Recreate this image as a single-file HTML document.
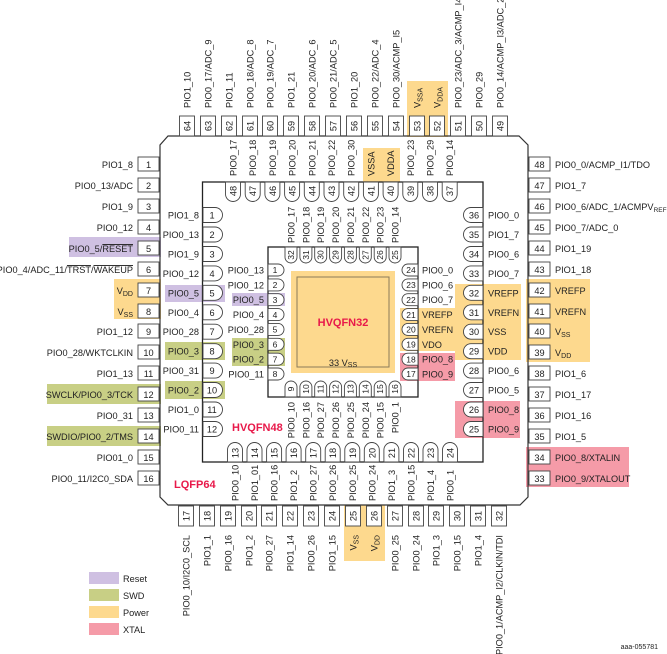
<!DOCTYPE html>
<html><head><meta charset="utf-8"><style>
html,body{margin:0;padding:0;background:#fff;}
svg{display:block;font-family:"Liberation Sans",sans-serif;}
text{fill:#222;font-size:9.2px;}
.n{text-anchor:middle;}
.e{text-anchor:end;}
.b rect{fill:#fff;stroke:#444;stroke-width:0.9;}
.t{fill:#fff;stroke:#444;stroke-width:0.9;}
.s text,.s{font-size:8.5px;}
</style></head><body>
<svg width="667" height="654" viewBox="0 0 667 654" xmlns="http://www.w3.org/2000/svg">
<defs>
<path id="t48" d="M0,-7.5 H12 A7.5,7.5 0 0 1 12,7.5 H0 Z" class="t"/>
<path id="t32" d="M0,-6 H10 A6,6 0 0 1 10,6 H0 Z" class="t"/>
</defs>

<g>
<rect x="69" y="237" width="92" height="20" fill="#cfc0e2"/>
<rect x="165" y="285" width="60" height="17" fill="#cfc0e2"/>
<rect x="232" y="293" width="53" height="13" fill="#cfc0e2"/>
<rect x="47" y="384" width="114" height="20" fill="#c8cf85"/>
<rect x="47" y="426" width="114" height="20" fill="#c8cf85"/>
<rect x="165" y="342" width="60" height="18" fill="#c8cf85"/>
<rect x="165" y="381" width="60" height="18" fill="#c8cf85"/>
<rect x="232" y="338" width="53" height="28" fill="#c8cf85"/>
<rect x="114" y="279" width="47" height="40" fill="#fdd98e"/>
<rect x="407" y="81" width="41" height="56" fill="#fdd98e"/>
<rect x="363" y="148" width="37" height="34" fill="#fdd98e"/>
<rect x="344" y="505" width="41" height="56" fill="#fdd98e"/>
<rect x="526" y="279" width="64" height="83" fill="#fdd98e"/>
<rect x="455" y="284" width="66" height="76" fill="#fdd98e"/>
<rect x="400" y="308" width="55" height="43" fill="#fdd98e"/>
<rect x="526" y="447" width="103" height="40" fill="#f59ba8"/>
<rect x="455" y="401" width="65" height="37" fill="#f59ba8"/>
<rect x="400" y="353" width="55" height="28" fill="#f59ba8"/>
</g>

<polygon points="168,136 519,136 528,145 528,497 520,505 168,505 160,497 160,145" fill="none" stroke="#333" stroke-width="1.2"/>
<rect x="202.5" y="182" width="280.5" height="280" fill="none" stroke="#222" stroke-width="1.3"/>
<rect x="268" y="247" width="150" height="150" fill="none" stroke="#222" stroke-width="1.3"/>
<rect x="291" y="271" width="104" height="102" fill="#fdd98e"/>
<rect x="297" y="277" width="92" height="90" fill="none" stroke="#8a7a5a" stroke-width="1"/>
<text x="343" y="326" class="n" style="font-size:11px;font-weight:bold;fill:#e8194a">HVQFN32</text>
<text x="343" y="366" class="n">33 V<tspan font-size="7" dy="1">SS</tspan></text>
<text x="232" y="431" style="font-size:11px;font-weight:bold;fill:#e8194a">HVQFN48</text>
<text x="174" y="488" style="font-size:11px;font-weight:bold;fill:#e8194a">LQFP64</text>

<g class="b">
<rect x="138" y="157" width="21" height="14"/><rect x="138" y="178" width="21" height="14"/><rect x="138" y="199" width="21" height="14"/><rect x="138" y="220" width="21" height="14"/><rect x="138" y="241" width="21" height="14"/><rect x="138" y="262" width="21" height="14"/><rect x="138" y="283" width="21" height="14"/><rect x="138" y="304" width="21" height="14"/><rect x="138" y="324" width="21" height="14"/><rect x="138" y="345" width="21" height="14"/><rect x="138" y="366" width="21" height="14"/><rect x="138" y="387" width="21" height="14"/><rect x="138" y="408" width="21" height="14"/><rect x="138" y="429" width="21" height="14"/><rect x="138" y="450" width="21" height="14"/><rect x="138" y="471" width="21" height="14"/>
</g>
<g class="n">
<text x="148.5" y="168">1</text><text x="148.5" y="189">2</text><text x="148.5" y="210">3</text><text x="148.5" y="231">4</text><text x="148.5" y="252">5</text><text x="148.5" y="273">6</text><text x="148.5" y="294">7</text><text x="148.5" y="315">8</text><text x="148.5" y="335">9</text><text x="148.5" y="356">10</text><text x="148.5" y="377">11</text><text x="148.5" y="398">12</text><text x="148.5" y="419">13</text><text x="148.5" y="440">14</text><text x="148.5" y="461">15</text><text x="148.5" y="482">16</text>
</g>
<g class="e">
<text x="133" y="168">PIO1_8</text><text x="133" y="189">PIO0_13/ADC</text><text x="133" y="210">PIO1_9</text><text x="133" y="231">PIO0_12</text><text x="133" y="252">PIO0_5/<tspan text-decoration="overline">RESET</tspan></text><text x="133" y="273">PIO0_4/ADC_11/<tspan text-decoration="overline">TRST</tspan>/<tspan text-decoration="overline">WAKEUP</tspan></text><text x="133" y="294">V<tspan font-size="7" dy="2">DD</tspan></text><text x="133" y="315">V<tspan font-size="7" dy="2">SS</tspan></text><text x="133" y="335">PIO1_12</text><text x="133" y="356">PIO0_28/WKTCLKIN</text><text x="133" y="377">PIO1_13</text><text x="133" y="398">SWCLK/PIO0_3/TCK</text><text x="133" y="419">PIO0_31</text><text x="133" y="440">SWDIO/PIO0_2/TMS</text><text x="133" y="461">PIO01_0</text><text x="133" y="482">PIO0_11/I2C0_SDA</text>
</g>

<g class="b">
<rect x="529" y="157" width="21" height="14"/><rect x="529" y="178" width="21" height="14"/><rect x="529" y="199" width="21" height="14"/><rect x="529" y="220" width="21" height="14"/><rect x="529" y="241" width="21" height="14"/><rect x="529" y="262" width="21" height="14"/><rect x="529" y="283" width="21" height="14"/><rect x="529" y="304" width="21" height="14"/><rect x="529" y="324" width="21" height="14"/><rect x="529" y="345" width="21" height="14"/><rect x="529" y="366" width="21" height="14"/><rect x="529" y="387" width="21" height="14"/><rect x="529" y="408" width="21" height="14"/><rect x="529" y="429" width="21" height="14"/><rect x="529" y="450" width="21" height="14"/><rect x="529" y="471" width="21" height="14"/>
</g>
<g class="n">
<text x="539.5" y="168">48</text><text x="539.5" y="189">47</text><text x="539.5" y="210">46</text><text x="539.5" y="231">45</text><text x="539.5" y="252">44</text><text x="539.5" y="273">43</text><text x="539.5" y="294">42</text><text x="539.5" y="315">41</text><text x="539.5" y="335">40</text><text x="539.5" y="356">39</text><text x="539.5" y="377">38</text><text x="539.5" y="398">37</text><text x="539.5" y="419">36</text><text x="539.5" y="440">35</text><text x="539.5" y="461">34</text><text x="539.5" y="482">33</text>
</g>
<g>
<text x="555" y="168">PIO0_0/ACMP_I1/TDO</text><text x="555" y="189">PIO1_7</text><text x="555" y="210">PIO0_6/ADC_1/ACMPV<tspan font-size="6.5" dy="2">REF</tspan></text><text x="555" y="231">PIO0_7/ADC_0</text><text x="555" y="252">PIO1_19</text><text x="555" y="273">PIO1_18</text><text x="555" y="294">VREFP</text><text x="555" y="315">VREFN</text><text x="555" y="335">V<tspan font-size="7" dy="2">SS</tspan></text><text x="555" y="356">V<tspan font-size="7" dy="2">DD</tspan></text><text x="555" y="377">PIO1_6</text><text x="555" y="398">PIO1_17</text><text x="555" y="419">PIO1_16</text><text x="555" y="440">PIO1_5</text><text x="555" y="461">PIO0_8/XTALIN</text><text x="555" y="482">PIO0_9/XTALOUT</text>
</g>

<g class="b">
<rect x="179.5" y="116" width="15" height="20"/><rect x="200.5" y="116" width="15" height="20"/><rect x="221.5" y="116" width="15" height="20"/><rect x="242.5" y="116" width="15" height="20"/><rect x="262.5" y="116" width="15" height="20"/><rect x="283.5" y="116" width="15" height="20"/><rect x="304.5" y="116" width="15" height="20"/><rect x="325.5" y="116" width="15" height="20"/><rect x="346.5" y="116" width="15" height="20"/><rect x="367.5" y="116" width="15" height="20"/><rect x="388.5" y="116" width="15" height="20"/><rect x="409.5" y="116" width="15" height="20"/><rect x="429.5" y="116" width="15" height="20"/><rect x="450.5" y="116" width="15" height="20"/><rect x="471.5" y="116" width="15" height="20"/><rect x="492.5" y="116" width="15" height="20"/>
</g>
<g class="n">
<text transform="translate(190.5,126) rotate(-90)">64</text><text transform="translate(211.5,126) rotate(-90)">63</text><text transform="translate(232.5,126) rotate(-90)">62</text><text transform="translate(253.5,126) rotate(-90)">61</text><text transform="translate(273.5,126) rotate(-90)">60</text><text transform="translate(294.5,126) rotate(-90)">59</text><text transform="translate(315.5,126) rotate(-90)">58</text><text transform="translate(336.5,126) rotate(-90)">57</text><text transform="translate(357.5,126) rotate(-90)">56</text><text transform="translate(378.5,126) rotate(-90)">55</text><text transform="translate(399.5,126) rotate(-90)">54</text><text transform="translate(420.5,126) rotate(-90)">53</text><text transform="translate(440.5,126) rotate(-90)">52</text><text transform="translate(461.5,126) rotate(-90)">51</text><text transform="translate(482.5,126) rotate(-90)">50</text><text transform="translate(503.5,126) rotate(-90)">49</text>
</g>
<g>
<text transform="translate(190.5,108) rotate(-90)">PIO1_10</text><text transform="translate(211.5,108) rotate(-90)">PIO0_17/ADC_9</text><text transform="translate(232.5,108) rotate(-90)">PIO1_11</text><text transform="translate(253.5,108) rotate(-90)">PIO0_18/ADC_8</text><text transform="translate(273.5,108) rotate(-90)">PIO0_19/ADC_7</text><text transform="translate(294.5,108) rotate(-90)">PIO1_21</text><text transform="translate(315.5,108) rotate(-90)">PIO0_20/ADC_6</text><text transform="translate(336.5,108) rotate(-90)">PIO0_21/ADC_5</text><text transform="translate(357.5,108) rotate(-90)">PIO1_20</text><text transform="translate(378.5,108) rotate(-90)">PIO0_22/ADC_4</text><text transform="translate(399.5,108) rotate(-90)">PIO0_30/ACMP_I5</text><text transform="translate(420.5,108) rotate(-90)">V<tspan font-size="7" dy="2">SSA</tspan></text><text transform="translate(440.5,108) rotate(-90)">V<tspan font-size="7" dy="2">DDA</tspan></text><text transform="translate(461.5,108) rotate(-90)">PIO0_23/ADC_3/ACMP_I4</text><text transform="translate(482.5,108) rotate(-90)">PIO0_29</text><text transform="translate(503.5,108) rotate(-90)">PIO0_14/ACMP_I3/ADC_2</text>
</g>

<g class="b">
<rect x="178.5" y="506" width="15" height="20"/><rect x="199.5" y="506" width="15" height="20"/><rect x="220.5" y="506" width="15" height="20"/><rect x="241.5" y="506" width="15" height="20"/><rect x="261.5" y="506" width="15" height="20"/><rect x="282.5" y="506" width="15" height="20"/><rect x="303.5" y="506" width="15" height="20"/><rect x="324.5" y="506" width="15" height="20"/><rect x="345.5" y="506" width="15" height="20"/><rect x="366.5" y="506" width="15" height="20"/><rect x="387.5" y="506" width="15" height="20"/><rect x="408.5" y="506" width="15" height="20"/><rect x="428.5" y="506" width="15" height="20"/><rect x="449.5" y="506" width="15" height="20"/><rect x="470.5" y="506" width="15" height="20"/><rect x="491.5" y="506" width="15" height="20"/>
</g>
<g class="n">
<text transform="translate(189.5,516) rotate(-90)">17</text><text transform="translate(210.5,516) rotate(-90)">18</text><text transform="translate(231.5,516) rotate(-90)">19</text><text transform="translate(252.5,516) rotate(-90)">20</text><text transform="translate(272.5,516) rotate(-90)">21</text><text transform="translate(293.5,516) rotate(-90)">22</text><text transform="translate(314.5,516) rotate(-90)">23</text><text transform="translate(335.5,516) rotate(-90)">24</text><text transform="translate(356.5,516) rotate(-90)">25</text><text transform="translate(377.5,516) rotate(-90)">26</text><text transform="translate(398.5,516) rotate(-90)">27</text><text transform="translate(419.5,516) rotate(-90)">28</text><text transform="translate(439.5,516) rotate(-90)">29</text><text transform="translate(460.5,516) rotate(-90)">30</text><text transform="translate(481.5,516) rotate(-90)">31</text><text transform="translate(502.5,516) rotate(-90)">32</text>
</g>
<g class="e">
<text transform="translate(189.5,535) rotate(-90)">PIO0_10/I2C0_SCL</text><text transform="translate(210.5,535) rotate(-90)">PIO1_1</text><text transform="translate(231.5,535) rotate(-90)">PIO0_16</text><text transform="translate(252.5,535) rotate(-90)">PIO1_2</text><text transform="translate(272.5,535) rotate(-90)">PIO0_27</text><text transform="translate(293.5,535) rotate(-90)">PIO1_14</text><text transform="translate(314.5,535) rotate(-90)">PIO0_26</text><text transform="translate(335.5,535) rotate(-90)">PIO1_15</text><text transform="translate(356.5,535) rotate(-90)">V<tspan font-size="7" dy="2">SS</tspan></text><text transform="translate(377.5,535) rotate(-90)">V<tspan font-size="7" dy="2">DD</tspan></text><text transform="translate(398.5,535) rotate(-90)">PIO0_25</text><text transform="translate(419.5,535) rotate(-90)">PIO0_24</text><text transform="translate(439.5,535) rotate(-90)">PIO1_3</text><text transform="translate(460.5,535) rotate(-90)">PIO0_15</text><text transform="translate(481.5,535) rotate(-90)">PIO1_4</text><text transform="translate(502.5,535) rotate(-90)">PIO0_1/ACMP_I2/CLKIN/TDI</text>
</g>

<use href="#t48" transform="translate(203,215)"/><use href="#t48" transform="translate(203,234.5)"/><use href="#t48" transform="translate(203,254)"/><use href="#t48" transform="translate(203,273.4)"/><use href="#t48" transform="translate(203,292.8)"/><use href="#t48" transform="translate(203,312.3)"/><use href="#t48" transform="translate(203,331.7)"/><use href="#t48" transform="translate(203,351.2)"/><use href="#t48" transform="translate(203,370.6)"/><use href="#t48" transform="translate(203,390)"/><use href="#t48" transform="translate(203,409.5)"/><use href="#t48" transform="translate(203,429)"/>
<g class="n">
<text x="212" y="218.5">1</text><text x="212" y="238">2</text><text x="212" y="257.5">3</text><text x="212" y="277">4</text><text x="212" y="296.3">5</text><text x="212" y="315.8">6</text><text x="212" y="335.2">7</text><text x="212" y="354.7">8</text><text x="212" y="374">9</text><text x="212" y="393.5">10</text><text x="212" y="413">11</text><text x="212" y="432.5">12</text>
</g>
<g class="e">
<text x="199" y="218.5">PIO1_8</text><text x="199" y="238">PIO0_13</text><text x="199" y="257.5">PIO1_9</text><text x="199" y="277">PIO0_12</text><text x="199" y="296.3">PIO0_5</text><text x="199" y="315.8">PIO0_4</text><text x="199" y="335.2">PIO0_28</text><text x="199" y="354.7">PIO0_3</text><text x="199" y="374">PIO0_31</text><text x="199" y="393.5">PIO0_2</text><text x="199" y="413">PIO1_0</text><text x="199" y="432.5">PIO0_11</text>
</g>
<use href="#t48" transform="translate(483,215) scale(-1,1)"/><use href="#t48" transform="translate(483,234.5) scale(-1,1)"/><use href="#t48" transform="translate(483,254) scale(-1,1)"/><use href="#t48" transform="translate(483,273.4) scale(-1,1)"/><use href="#t48" transform="translate(483,292.8) scale(-1,1)"/><use href="#t48" transform="translate(483,312.3) scale(-1,1)"/><use href="#t48" transform="translate(483,331.7) scale(-1,1)"/><use href="#t48" transform="translate(483,351.2) scale(-1,1)"/><use href="#t48" transform="translate(483,370.6) scale(-1,1)"/><use href="#t48" transform="translate(483,390) scale(-1,1)"/><use href="#t48" transform="translate(483,409.5) scale(-1,1)"/><use href="#t48" transform="translate(483,429) scale(-1,1)"/>
<g class="n">
<text x="474" y="218.5">36</text><text x="474" y="238">35</text><text x="474" y="257.5">34</text><text x="474" y="277">33</text><text x="474" y="296.3">32</text><text x="474" y="315.8">31</text><text x="474" y="335.2">30</text><text x="474" y="354.7">29</text><text x="474" y="374">28</text><text x="474" y="393.5">27</text><text x="474" y="413">26</text><text x="474" y="432.5">25</text>
</g>
<g>
<text x="488" y="218.5">PIO0_0</text><text x="488" y="238">PIO1_7</text><text x="488" y="257.5">PIO0_6</text><text x="488" y="277">PIO0_7</text><text x="488" y="296.3">VREFP</text><text x="488" y="315.8">VREFN</text><text x="488" y="335.2">VSS</text><text x="488" y="354.7">VDD</text><text x="488" y="374">PIO0_6</text><text x="488" y="393.5">PIO0_5</text><text x="488" y="413">PIO0_8</text><text x="488" y="432.5">PIO0_9</text>
</g>
<use href="#t48" transform="translate(233,182) rotate(90)"/><use href="#t48" transform="translate(252.7,182) rotate(90)"/><use href="#t48" transform="translate(272.4,182) rotate(90)"/><use href="#t48" transform="translate(292.1,182) rotate(90)"/><use href="#t48" transform="translate(311.8,182) rotate(90)"/><use href="#t48" transform="translate(331.5,182) rotate(90)"/><use href="#t48" transform="translate(351.2,182) rotate(90)"/><use href="#t48" transform="translate(370.9,182) rotate(90)"/><use href="#t48" transform="translate(390.6,182) rotate(90)"/><use href="#t48" transform="translate(410.3,182) rotate(90)"/><use href="#t48" transform="translate(430,182) rotate(90)"/><use href="#t48" transform="translate(449.7,182) rotate(90)"/>
<g class="n">
<text transform="translate(236.5,191) rotate(-90)">48</text><text transform="translate(256.2,191) rotate(-90)">47</text><text transform="translate(275.9,191) rotate(-90)">46</text><text transform="translate(295.6,191) rotate(-90)">45</text><text transform="translate(315.3,191) rotate(-90)">44</text><text transform="translate(335,191) rotate(-90)">43</text><text transform="translate(354.7,191) rotate(-90)">42</text><text transform="translate(374.4,191) rotate(-90)">41</text><text transform="translate(394.1,191) rotate(-90)">40</text><text transform="translate(413.8,191) rotate(-90)">39</text><text transform="translate(433.5,191) rotate(-90)">38</text><text transform="translate(453.2,191) rotate(-90)">37</text>
</g>
<g>
<text transform="translate(236.5,176) rotate(-90)">PIO0_17</text><text transform="translate(256.2,176) rotate(-90)">PIO0_18</text><text transform="translate(275.9,176) rotate(-90)">PIO0_19</text><text transform="translate(295.6,176) rotate(-90)">PIO0_20</text><text transform="translate(315.3,176) rotate(-90)">PIO0_21</text><text transform="translate(335,176) rotate(-90)">PIO0_22</text><text transform="translate(354.7,176) rotate(-90)">PIO0_30</text><text transform="translate(374.4,176) rotate(-90)">VSSA</text><text transform="translate(394.1,176) rotate(-90)">VDDA</text><text transform="translate(413.8,176) rotate(-90)">PIO0_23</text><text transform="translate(433.5,176) rotate(-90)">PIO0_29</text><text transform="translate(453.2,176) rotate(-90)">PIO0_14</text>
</g>
<use href="#t48" transform="translate(235,462) rotate(-90)"/><use href="#t48" transform="translate(254.5,462) rotate(-90)"/><use href="#t48" transform="translate(274.1,462) rotate(-90)"/><use href="#t48" transform="translate(293.6,462) rotate(-90)"/><use href="#t48" transform="translate(313.2,462) rotate(-90)"/><use href="#t48" transform="translate(332.7,462) rotate(-90)"/><use href="#t48" transform="translate(352.3,462) rotate(-90)"/><use href="#t48" transform="translate(371.8,462) rotate(-90)"/><use href="#t48" transform="translate(391.4,462) rotate(-90)"/><use href="#t48" transform="translate(411,462) rotate(-90)"/><use href="#t48" transform="translate(430.5,462) rotate(-90)"/><use href="#t48" transform="translate(450,462) rotate(-90)"/>
<g class="n">
<text transform="translate(238.5,453) rotate(-90)">13</text><text transform="translate(258,453) rotate(-90)">14</text><text transform="translate(277.6,453) rotate(-90)">15</text><text transform="translate(297.1,453) rotate(-90)">16</text><text transform="translate(316.7,453) rotate(-90)">17</text><text transform="translate(336.2,453) rotate(-90)">18</text><text transform="translate(355.8,453) rotate(-90)">19</text><text transform="translate(375.3,453) rotate(-90)">20</text><text transform="translate(394.9,453) rotate(-90)">21</text><text transform="translate(414.5,453) rotate(-90)">22</text><text transform="translate(434,453) rotate(-90)">23</text><text transform="translate(453.5,453) rotate(-90)">24</text>
</g>
<g>
<text transform="translate(238.5,501) rotate(-90)">PIO0_10</text><text transform="translate(258,501) rotate(-90)">PIO1_01</text><text transform="translate(277.6,501) rotate(-90)">PIO0_16</text><text transform="translate(297.1,501) rotate(-90)">PIO1_2</text><text transform="translate(316.7,501) rotate(-90)">PIO0_27</text><text transform="translate(336.2,501) rotate(-90)">PIO0_26</text><text transform="translate(355.8,501) rotate(-90)">PIO0_25</text><text transform="translate(375.3,501) rotate(-90)">PIO0_24</text><text transform="translate(394.9,501) rotate(-90)">PIO1_3</text><text transform="translate(414.5,501) rotate(-90)">PIO0_15</text><text transform="translate(434,501) rotate(-90)">PIO1_4</text><text transform="translate(453.5,501) rotate(-90)">PIO0_1</text>
</g>

<use href="#t32" transform="translate(268,270)"/><use href="#t32" transform="translate(268,284.9)"/><use href="#t32" transform="translate(268,299.7)"/><use href="#t32" transform="translate(268,314.6)"/><use href="#t32" transform="translate(268,329.4)"/><use href="#t32" transform="translate(268,344.3)"/><use href="#t32" transform="translate(268,359.2)"/><use href="#t32" transform="translate(268,374)"/>
<g class="n s">
<text x="275" y="273.2">1</text><text x="275" y="288.1">2</text><text x="275" y="302.9">3</text><text x="275" y="317.8">4</text><text x="275" y="332.6">5</text><text x="275" y="347.5">6</text><text x="275" y="362.4">7</text><text x="275" y="377.2">8</text>
</g>
<g class="e">
<text x="264" y="273.5">PIO0_13</text><text x="264" y="288.4">PIO0_12</text><text x="264" y="303.2">PIO0_5</text><text x="264" y="318.1">PIO0_4</text><text x="264" y="332.9">PIO0_28</text><text x="264" y="347.8">PIO0_3</text><text x="264" y="362.7">PIO0_2</text><text x="264" y="377.5">PIO0_11</text>
</g>
<use href="#t32" transform="translate(418,270) scale(-1,1)"/><use href="#t32" transform="translate(418,284.9) scale(-1,1)"/><use href="#t32" transform="translate(418,299.7) scale(-1,1)"/><use href="#t32" transform="translate(418,314.6) scale(-1,1)"/><use href="#t32" transform="translate(418,329.4) scale(-1,1)"/><use href="#t32" transform="translate(418,344.3) scale(-1,1)"/><use href="#t32" transform="translate(418,359.2) scale(-1,1)"/><use href="#t32" transform="translate(418,374) scale(-1,1)"/>
<g class="n s">
<text x="411" y="273.2">24</text><text x="411" y="288.1">23</text><text x="411" y="302.9">22</text><text x="411" y="317.8">21</text><text x="411" y="332.6">20</text><text x="411" y="347.5">19</text><text x="411" y="362.4">18</text><text x="411" y="377.2">17</text>
</g>
<g>
<text x="422" y="273.5">PIO0_0</text><text x="422" y="288.4">PIO0_6</text><text x="422" y="303.2">PIO0_7</text><text x="422" y="318.1">VREFP</text><text x="422" y="332.9">VREFN</text><text x="422" y="347.8">VDO</text><text x="422" y="362.7">PIO0_8</text><text x="422" y="377.5">PIO0_9</text>
</g>
<use href="#t32" transform="translate(291,247) rotate(90)"/><use href="#t32" transform="translate(305.9,247) rotate(90)"/><use href="#t32" transform="translate(320.7,247) rotate(90)"/><use href="#t32" transform="translate(335.6,247) rotate(90)"/><use href="#t32" transform="translate(350.4,247) rotate(90)"/><use href="#t32" transform="translate(365.3,247) rotate(90)"/><use href="#t32" transform="translate(380.2,247) rotate(90)"/><use href="#t32" transform="translate(395,247) rotate(90)"/>
<g class="n s">
<text transform="translate(294,255) rotate(-90)">32</text><text transform="translate(308.9,255) rotate(-90)">31</text><text transform="translate(323.7,255) rotate(-90)">30</text><text transform="translate(338.6,255) rotate(-90)">29</text><text transform="translate(353.4,255) rotate(-90)">28</text><text transform="translate(368.3,255) rotate(-90)">27</text><text transform="translate(383.2,255) rotate(-90)">26</text><text transform="translate(398,255) rotate(-90)">25</text>
</g>
<g>
<text transform="translate(294.5,243) rotate(-90)">PIO0_17</text><text transform="translate(309.4,243) rotate(-90)">PIO0_18</text><text transform="translate(324.2,243) rotate(-90)">PIO0_19</text><text transform="translate(339.1,243) rotate(-90)">PIO0_20</text><text transform="translate(353.9,243) rotate(-90)">PIO0_21</text><text transform="translate(368.8,243) rotate(-90)">PIO0_22</text><text transform="translate(383.7,243) rotate(-90)">PIO0_23</text><text transform="translate(398.5,243) rotate(-90)">PIO0_14</text>
</g>
<use href="#t32" transform="translate(291,397) rotate(-90)"/><use href="#t32" transform="translate(305.9,397) rotate(-90)"/><use href="#t32" transform="translate(320.7,397) rotate(-90)"/><use href="#t32" transform="translate(335.6,397) rotate(-90)"/><use href="#t32" transform="translate(350.4,397) rotate(-90)"/><use href="#t32" transform="translate(365.3,397) rotate(-90)"/><use href="#t32" transform="translate(380.2,397) rotate(-90)"/><use href="#t32" transform="translate(395,397) rotate(-90)"/>
<g class="n s">
<text transform="translate(294,389) rotate(-90)">9</text><text transform="translate(308.9,389) rotate(-90)">10</text><text transform="translate(323.7,389) rotate(-90)">11</text><text transform="translate(338.6,389) rotate(-90)">12</text><text transform="translate(353.4,389) rotate(-90)">13</text><text transform="translate(368.3,389) rotate(-90)">14</text><text transform="translate(383.2,389) rotate(-90)">15</text><text transform="translate(398,389) rotate(-90)">16</text>
</g>
<g class="e">
<text transform="translate(294.5,402) rotate(-90)">PIO0_10</text><text transform="translate(309.4,402) rotate(-90)">PIO0_16</text><text transform="translate(324.2,402) rotate(-90)">PIO0_27</text><text transform="translate(339.1,402) rotate(-90)">PIO0_26</text><text transform="translate(353.9,402) rotate(-90)">PIO0_25</text><text transform="translate(368.8,402) rotate(-90)">PIO0_24</text><text transform="translate(383.7,402) rotate(-90)">PIO0_15</text><text transform="translate(398.5,402) rotate(-90)">PIO0_1</text>
</g>

<rect x="89" y="572" width="30" height="12" fill="#cfc0e2"/>
<rect x="89" y="589" width="30" height="12" fill="#c8cf85"/>
<rect x="89" y="606" width="30" height="12" fill="#fdd98e"/>
<rect x="89" y="623" width="30" height="12" fill="#f59ba8"/>
<text x="123" y="582">Reset</text>
<text x="123" y="599">SWD</text>
<text x="123" y="616">Power</text>
<text x="123" y="633">XTAL</text>
<text x="658" y="649" class="e" style="font-size:7px">aaa-055781</text>
</svg>
</body></html>
